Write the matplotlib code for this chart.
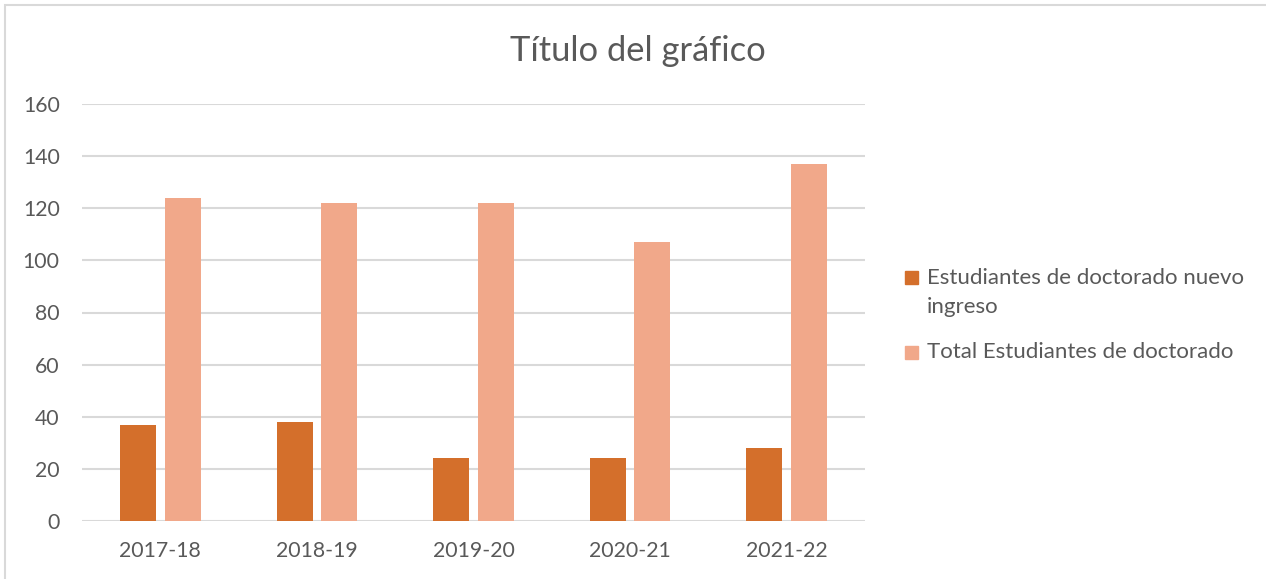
import numpy as np
import matplotlib.pyplot as plt
from matplotlib.patches import Rectangle

years = ['2017-18', '2018-19', '2019-20', '2020-21', '2021-22']
nuevo_ingreso = [37, 38, 24, 24, 28]
total_doctorado = [124, 122, 122, 107, 137]
series_labels = ['Estudiantes de doctorado nuevo\ningreso',
                 'Total Estudiantes de doctorado']

dark_color = '#D46F2B'
light_color = '#F1A88A'
text_color = '#595959'
grid_color = '#D9D9D9'

plt.rcParams['font.family'] = ['Lato', 'DejaVu Sans']

W, H = 1266, 579
fig = plt.figure(figsize=(W / 100, H / 100), dpi=100)
fig.patches.append(Rectangle((5 / W, -0.1), 1.2, 1 - 5 / H + 0.1,
                             transform=fig.transFigure, fill=False,
                             edgecolor=grid_color, linewidth=1.5))

ax = fig.add_axes([82 / W, 1 - 521 / H, 783 / W, 417 / H])
x = np.arange(len(years))
width = 0.23
offset = 0.142
ax.bar(x - offset, nuevo_ingreso, width, color=dark_color)
ax.bar(x + offset, total_doctorado, width, color=light_color)

ax.set_xlim(-0.5, len(years) - 0.5)
ax.set_ylim(0, 160)
ax.set_yticks(np.arange(0, 161, 20))
ax.set_xticks(x)
ax.set_xticklabels(years)
ax.yaxis.grid(True, color=grid_color, linewidth=1.5)
ax.set_axisbelow(True)
for side in ['top', 'right', 'left', 'bottom']:
    ax.spines[side].set_visible(False)
ax.tick_params(axis='both', length=0, labelsize=15.3, colors=text_color)
ax.tick_params(axis='y', pad=16)
ax.tick_params(axis='x', pad=14.5)

fig.text(638 / W, 1 - 51 / H, 'Título del gráfico', ha='center', va='center',
         fontsize=24.8, color=text_color)

# legend drawn by hand so the square sits next to the first text line
legend_rows = [(271, 279, series_labels[0], dark_color),
               (346, 353, series_labels[1], light_color)]
for sq_top, text_y, label, color in legend_rows:
    fig.patches.append(Rectangle((905 / W, 1 - (sq_top + 13) / H), 13 / W, 13 / H,
                                 transform=fig.transFigure, color=color))
    fig.text(927 / W, 1 - (text_y - 11) / H, label, ha='left', va='top',
             fontsize=16, color=text_color, linespacing=1.55)

plt.savefig('out.png', dpi=100)
